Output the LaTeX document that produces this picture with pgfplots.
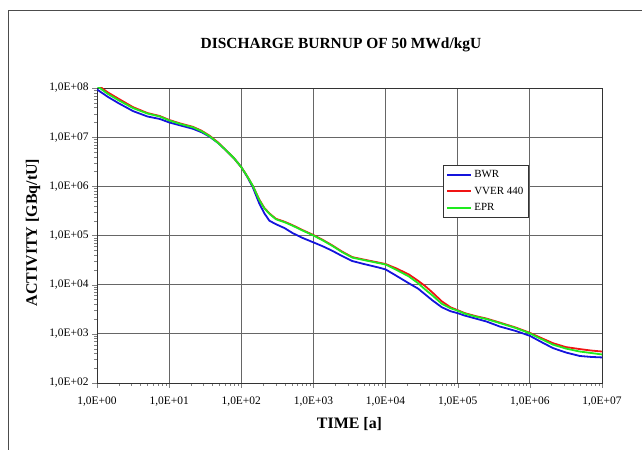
\documentclass[border=0pt]{standalone}
\usepackage{pgfplots}
\pgfplotsset{compat=1.18}
\usepackage{fontspec}
\setmainfont{Liberation Serif}
\definecolor{cblue}{RGB}{20,20,220}
\definecolor{cred}{RGB}{240,20,20}
\definecolor{cgreen}{RGB}{30,235,30}
\begin{document}
\begin{tikzpicture}[x=1bp,y=1bp]
\path[use as bounding box] (0,0) rectangle (642,450);
\draw[black!70, line width=0.8bp] (8,0) -- (8,440) -- (642,440);
\node[font=\bfseries\fontsize{15.5}{17}\selectfont] at (341,405) {DISCHARGE BURNUP OF 50 MWd/kgU};
\begin{axis}[
  at={(97bp,67bp)}, anchor=south west,
  scale only axis, width=505bp, height=295bp,
  xmode=log, ymode=log,
  xmin=1, xmax=1e7, ymin=1e2, ymax=1e8,
  xtick={1,1e1,1e2,1e3,1e4,1e5,1e6,1e7},
  xticklabels={1{,}0E+00,1{,}0E+01,1{,}0E+02,1{,}0E+03,1{,}0E+04,1{,}0E+05,1{,}0E+06,1{,}0E+07},
  ytick={1e2,1e3,1e4,1e5,1e6,1e7,1e8},
  yticklabels={1{,}0E+02,1{,}0E+03,1{,}0E+04,1{,}0E+05,1{,}0E+06,1{,}0E+07,1{,}0E+08},
  minor xtick={}, minor ytick={},
  tick label style={font=\fontsize{11.5}{13}\selectfont},
  xticklabel style={yshift=-5bp},
  tick align=outside, tick pos=left,
  major tick length=5bp,
  grid=major,
  major grid style={black!60, line width=0.8bp},
  axis line style={black!80, line width=0.9bp},
  xlabel={TIME [a]}, ylabel={ACTIVITY [GBq/tU]},
  label style={font=\bfseries\fontsize{16}{18}\selectfont},
  xlabel style={at={(axis description cs:0.5,0)}, anchor=center, yshift=-41bp},
  ylabel style={at={(axis description cs:-0.1267,0.51)}, anchor=center},
  legend style={at={(0.685,0.739)}, anchor=north west, draw=black!80, line width=0.8bp,
    font=\fontsize{11}{12}\selectfont, row sep=4bp, inner sep=3bp},
  legend cell align=left,
  legend image code/.code={\draw[#1, line width=2bp] (0bp,0bp) -- (24bp,0bp);},
]
\addplot[cblue, line width=1.8bp] coordinates {
(1,9.333e7) (1.413,6.607e7) (1.995,4.898e7) (3.162,3.388e7) (5.012,2.630e7) (7.413,2.344e7)
(10,1.995e7) (14.13,1.738e7) (21.38,1.479e7) (28.18,1.259e7) (36.31,1.023e7) (47.86,7.586e6)
(61.66,5.370e6) (79.43,3.715e6) (100,2.455e6) (120.2,1.585e6) (144.5,9.550e5) (177.8,4.467e5)
(208.9,2.818e5) (245.5,1.995e5) (302.0,1.698e5) (398.1,1.413e5) (512.9,1.122e5) (707.9,8.913e4)
(1000,7.244e4) (1349,6.026e4) (1820,4.898e4) (2512,3.802e4) (3467,3.020e4) (5012,2.630e4)
(7943,2.239e4) (1e4,2.042e4) (14130,1.514e4) (20890,1.072e4) (28180,8.318e3) (35480,6.310e3)
(44670,4.786e3) (60260,3.467e3) (79430,2.884e3) (1e5,2.630e3) (125900,2.344e3) (177800,2.042e3)
(251200,1.778e3) (380200,1.413e3) (631000,1.148e3) (1e6,9.120e2) (1413000,6.918e2) (2089000,5.129e2)
(3162000,4.169e2) (4898000,3.548e2) (7079000,3.388e2) (1e7,3.311e2)
};
\addlegendentry{BWR}
\addplot[cred, line width=1.8bp] coordinates {
(1,1.175e8) (1.413,8.128e7) (1.995,6.026e7) (3.162,4.074e7) (5.012,3.090e7) (7.413,2.692e7)
(10,2.239e7) (14.13,1.905e7) (21.38,1.622e7) (28.18,1.349e7) (36.31,1.072e7) (47.86,7.762e6)
(61.66,5.370e6) (79.43,3.715e6) (100,2.455e6) (120.2,1.622e6) (144.5,1.023e6) (177.8,5.370e5)
(208.9,3.631e5) (245.5,2.818e5) (302.0,2.188e5) (398.1,1.905e5) (512.9,1.622e5) (707.9,1.288e5)
(1000,1.023e5) (1349,8.128e4) (1820,6.310e4) (2512,4.677e4) (3467,3.631e4) (5012,3.236e4)
(7943,2.818e4) (1e4,2.630e4) (14130,2.138e4) (20890,1.622e4) (28180,1.202e4) (35480,9.333e3)
(44670,6.918e3) (60260,4.571e3) (79430,3.467e3) (1e5,3.020e3) (125900,2.630e3) (177800,2.291e3)
(251200,2.042e3) (380200,1.698e3) (631000,1.349e3) (1e6,1.047e3) (1413000,8.318e2) (2089000,6.457e2)
(3162000,5.370e2) (4898000,4.898e2) (7079000,4.571e2) (1e7,4.365e2)
};
\addlegendentry{VVER 440}
\addplot[cgreen, line width=1.8bp] coordinates {
(1,1.096e8) (1.413,7.586e7) (1.995,5.623e7) (3.162,3.890e7) (5.012,3.020e7) (7.413,2.630e7)
(10,2.188e7) (14.13,1.862e7) (21.38,1.585e7) (28.18,1.318e7) (36.31,1.047e7) (47.86,7.586e6)
(61.66,5.370e6) (79.43,3.715e6) (100,2.455e6) (120.2,1.622e6) (144.5,1.023e6) (177.8,5.248e5)
(208.9,3.548e5) (245.5,2.754e5) (302.0,2.138e5) (398.1,1.862e5) (512.9,1.585e5) (707.9,1.259e5)
(1000,1.0e5) (1349,7.943e4) (1820,6.166e4) (2512,4.571e4) (3467,3.548e4) (5012,3.162e4)
(7943,2.754e4) (1e4,2.570e4) (14130,1.995e4) (20890,1.479e4) (28180,1.072e4) (35480,7.943e3)
(44670,6.026e3) (60260,4.074e3) (79430,3.311e3) (1e5,2.951e3) (125900,2.570e3) (177800,2.239e3)
(251200,1.995e3) (380200,1.660e3) (631000,1.318e3) (1e6,1.023e3) (1413000,7.943e2) (2089000,6.026e2)
(3162000,5.012e2) (4898000,4.365e2) (7079000,4.074e2) (1e7,3.802e2)
};
\addlegendentry{EPR}
\end{axis}
\end{tikzpicture}
\end{document}
